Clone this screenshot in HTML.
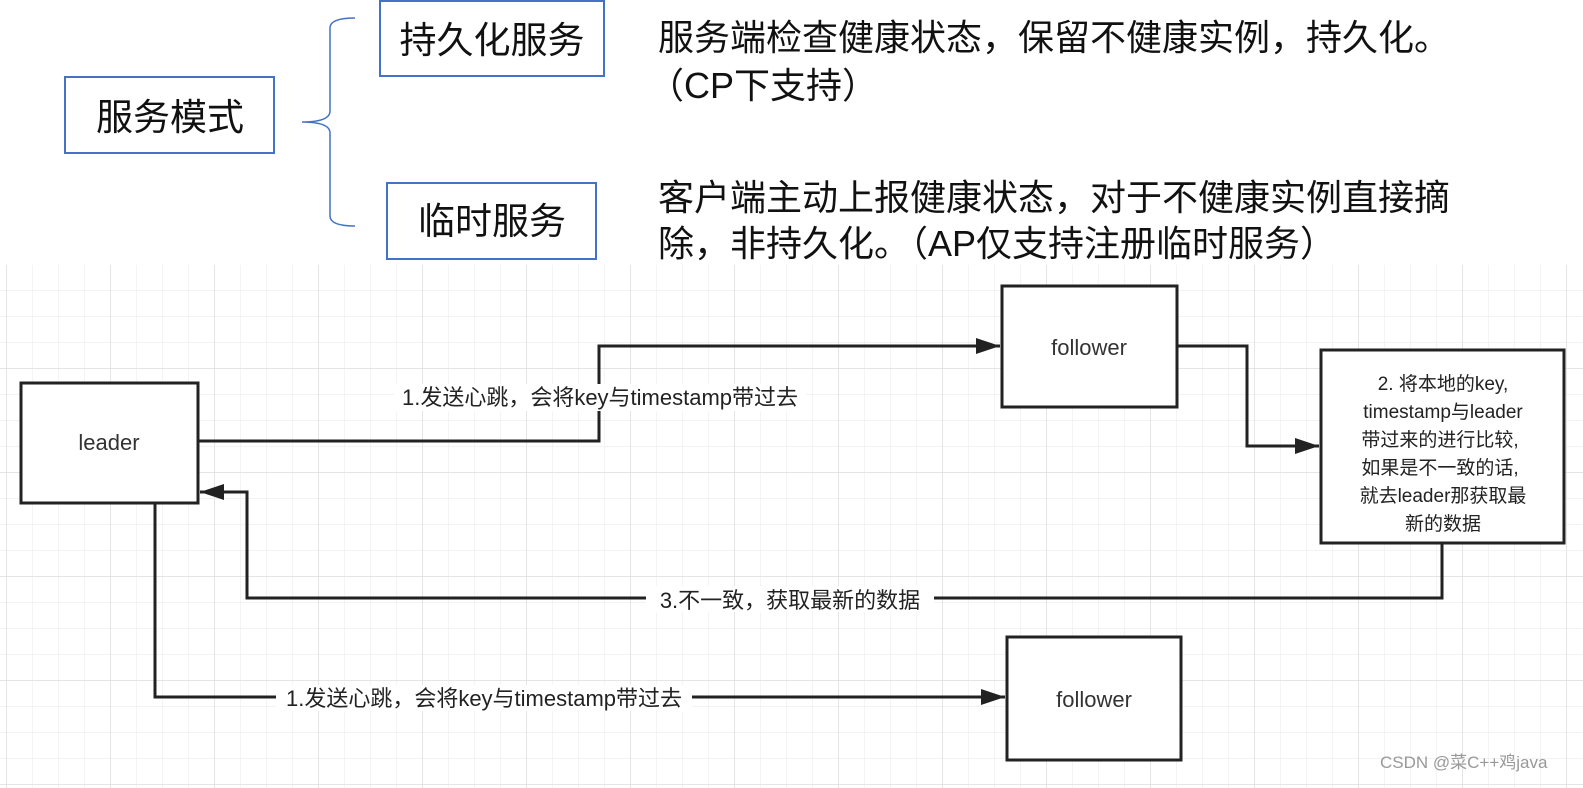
<!DOCTYPE html>
<html><head><meta charset="utf-8"><style>
body{margin:0;width:1583px;height:788px;overflow:hidden;background:#fff;font-family:"Liberation Sans","Noto Sans CJK SC",sans-serif;}
</style></head><body>
<svg width="1583" height="788" xmlns="http://www.w3.org/2000/svg" style="position:absolute;left:0;top:0">
<defs>
<pattern id="g" x="7" y="265" width="26" height="26" patternUnits="userSpaceOnUse">
<path d="M26 0V26M0 26H26" stroke="#ececec" stroke-width="1.2" fill="none"/>
</pattern>
<pattern id="G" x="7" y="265" width="104" height="104" patternUnits="userSpaceOnUse">
<path d="M104 0V104M0 104H104" stroke="#dedede" stroke-width="1.5" fill="none"/>
</pattern>
<marker id="A" viewBox="0 0 10 10" markerWidth="24" markerHeight="16" refX="10" refY="5" orient="auto" markerUnits="userSpaceOnUse" preserveAspectRatio="none"><path d="M0,0 L10,5 L0,10 Z" fill="#222"/></marker>
</defs>
<rect x="0" y="265" width="1583" height="523" fill="url(#g)"/>
<rect x="0" y="265" width="1583" height="523" fill="url(#G)"/>

<rect x="65" y="77" width="209" height="76" fill="#fff" stroke="#4472c4" stroke-width="2"/>
<text x="170" y="130" font-size="37" text-anchor="middle" fill="#111">服务模式</text>
<rect x="380" y="1" width="224" height="75" fill="#fff" stroke="#4472c4" stroke-width="2"/>
<text x="492" y="53" font-size="37" text-anchor="middle" fill="#111">持久化服务</text>
<rect x="387" y="183" width="209" height="76" fill="#fff" stroke="#4472c4" stroke-width="2"/>
<text x="492" y="234" font-size="37" text-anchor="middle" fill="#111">临时服务</text>
<path d="M301 18 Q276 18 276 28 V111 Q276 122 248 122 Q276 122 276 133 V216 Q276 226 301 226" transform="translate(54,0)" fill="none" stroke="#4472c4" stroke-width="1.5"/>
<g font-size="36" fill="#111">
<text x="658" y="50">服务端检查健康状态，保留不健康实例，持久化。</text>
<text x="648" y="98">（CP下支持）</text>
<text x="658" y="210">客户端主动上报健康状态，对于不健康实例直接摘</text>
<text x="658" y="256">除，非持久化。（AP仅支持注册临时服务）</text>
</g>

<g fill="#fff" stroke="#222" stroke-width="3">
<rect x="21" y="383" width="177" height="120"/>
<rect x="1002" y="286" width="175" height="121"/>
<rect x="1007" y="637" width="174" height="123"/>
<rect x="1321" y="350" width="243" height="193"/>
</g>
<g font-size="22" fill="#333" text-anchor="middle">
<text x="109" y="450">leader</text>
<text x="1089" y="355">follower</text>
<text x="1094" y="707">follower</text>
</g>
<g font-size="19" fill="#222" text-anchor="middle">
<text x="1443" y="390">2. 将本地的key,</text>
<text x="1443" y="418">timestamp与leader</text>
<text x="1440" y="446">带过来的进行比较,</text>
<text x="1440" y="474">如果是不一致的话,</text>
<text x="1443" y="502">就去leader那获取最</text>
<text x="1443" y="530">新的数据</text>
</g>
<g fill="none" stroke="#222" stroke-width="3">
<path d="M199 441 H599 V346 H1000" marker-end="url(#A)"/>
<path d="M1178 346 H1247 V446 H1319" marker-end="url(#A)"/>
<path d="M1442 544 V598 H247 V492 H200" marker-end="url(#A)"/>
<path d="M155 504 V697 H1005" marker-end="url(#A)"/>
</g>
<rect x="394" y="384" width="412" height="27" fill="#fff"/>
<text x="600" y="405" font-size="22" fill="#222" text-anchor="middle">1.发送心跳，会将key与timestamp带过去</text>
<rect x="646" y="586" width="288" height="26" fill="#fff"/>
<text x="790" y="608" font-size="22" fill="#222" text-anchor="middle">3.不一致，获取最新的数据</text>
<rect x="276" y="685" width="416" height="26" fill="#fff"/>
<text x="484" y="706" font-size="22" fill="#222" text-anchor="middle">1.发送心跳，会将key与timestamp带过去</text>
<text x="1380" y="768" font-size="17" fill="#999">CSDN @菜C++鸡java</text>
</svg>
</body></html>
